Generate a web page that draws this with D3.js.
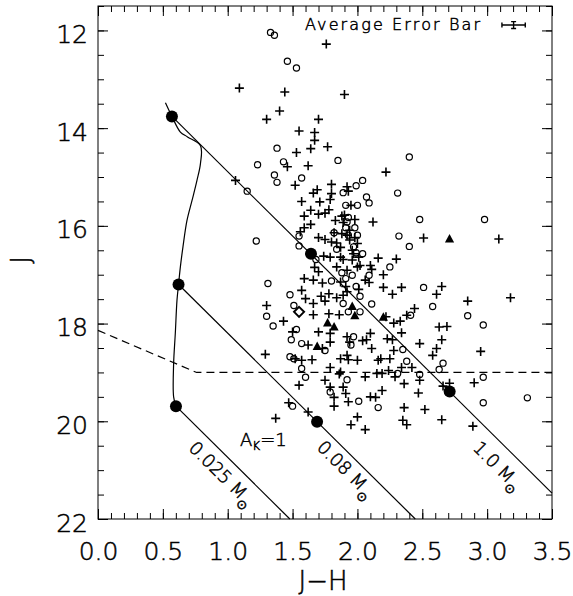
<!DOCTYPE html>
<html><head><meta charset="utf-8">
<script src="https://cdn.jsdelivr.net/npm/d3@7"></script>
<style>
body{margin:0;background:#fff}
text{font-family:"DejaVu Sans",sans-serif;font-weight:200;fill:#000;stroke:#000;stroke-width:0.5px}
</style>
</head><body>
<svg id="c" width="573" height="596"></svg>
<script>
// ---------- axes ----------
const xDomain = [0, 3.5];
const yDomain = [11.5, 22];
const xMajor = [0, 0.5, 1, 1.5, 2, 2.5, 3, 3.5];
const xMajorLabels = ["0.0","0.5","1.0","1.5","2.0","2.5","3.0","3.5"];
const xMinor = d3.range(0, 36).map(i => i / 10);
const yMajor = [12, 14, 16, 18, 20, 22];
const yMajorLabels = ["12","14","16","18","20","22"];
const yMinor = [11.5,12,12.5,13,13.5,14,14.5,15,15.5,16,16.5,17,17.5,18,18.5,19,19.5,20,20.5,21,21.5,22];
const xTitle = "J\u2212H";
const yTitle = "J";

// ---------- data (J-H, J) ----------
const plusPts = [
[1.09,13.18],[1.44,13.26],[1.40,13.65],[1.30,13.82],[1.55,14.06],[1.53,14.50],[1.46,14.79],[1.52,15.17],[1.06,15.07],
[1.76,12.28],[1.90,13.31],[1.70,13.82],[1.67,14.09],[1.67,14.25],[1.64,14.42],[1.77,14.38],[1.62,14.77],[1.80,15.15],
[1.92,15.20],[2.22,14.90],[1.80,15.34],[1.66,15.33],[1.69,15.26],[1.93,15.29],[1.57,15.50],[1.71,15.51],[1.79,15.46],
[1.95,15.58],[1.64,15.68],[1.59,15.80],[1.70,15.76],[1.75,15.74],[1.88,15.80],[1.83,15.89],[2.12,15.92],[1.59,16.04],
[1.56,16.12],[1.94,16.09],[1.82,16.14],[1.88,16.16],[1.70,16.24],[1.75,16.28],[2.51,16.25],[3.09,16.27],[1.80,16.33],
[1.98,16.24],[1.87,16.44],[1.97,16.57],[1.74,16.62],[1.79,16.64],[1.87,16.64],[2.16,16.66],[2.30,16.68],[1.78,15.67],
[1.89,15.93],[1.98,15.87],[1.64,15.97],[1.92,16.19],[1.84,16.35],[1.94,16.29],[2.00,16.36],[1.96,16.50],[1.89,16.69],
[1.96,16.70],[2.01,16.64],[1.67,16.85],[1.70,16.94],[1.84,16.84],[1.92,16.91],[2.00,16.84],[1.59,17.08],[1.66,17.11],
[1.91,17.24],[1.90,15.78],[2.02,16.81],[2.10,16.81],[2.11,16.89],[2.20,17.00],[2.06,17.11],[2.09,17.16],[2.20,17.26],
[2.34,17.26],[2.65,17.24],[1.57,17.32],[1.73,17.17],[1.87,17.15],[1.92,17.35],[1.30,17.63],[1.60,17.49],[1.72,17.44],
[1.75,17.54],[1.78,17.39],[1.84,17.47],[1.89,17.42],[1.66,17.59],[1.66,17.82],[1.78,17.80],[1.86,17.82],[1.50,18.17],
[1.70,18.17],[1.79,18.20],[1.79,18.38],[1.62,18.44],[1.29,18.63],[1.92,18.27],[1.73,18.51],[1.52,18.72],[1.57,18.75],
[1.65,18.74],[1.87,18.72],[1.92,18.65],[2.00,18.75],[1.79,18.90],[1.87,18.99],[1.75,19.16],[1.55,19.26],[1.79,19.30],
[1.89,19.30],[1.91,19.43],[1.82,19.51],[1.82,19.69],[2.06,19.09],[2.15,19.02],[2.19,19.02],[2.29,19.09],[2.36,19.23],
[2.48,19.16],[2.19,19.37],[2.47,19.42],[2.10,19.50],[2.14,19.51],[1.93,19.60],[2.36,19.72],[2.52,19.76],[2.00,19.91],
[1.95,20.07],[2.06,20.17],[2.35,19.98],[2.38,20.07],[2.65,19.97],[2.71,19.22],[2.66,19.28],[1.47,19.62],[1.62,19.81],
[1.37,19.94],[2.61,17.40],[2.27,17.40],[2.44,17.69],[2.38,17.83],[2.33,17.95],[2.28,17.99],[2.22,17.86],[2.63,18.07],
[2.69,18.06],[2.65,18.33],[2.48,18.41],[2.28,18.55],[2.61,18.51],[2.58,18.65],[2.42,18.90],[2.34,18.90],[2.16,18.75],
[2.25,18.72],[2.24,18.96],[2.10,18.20],[2.07,18.33],[2.04,18.35],[2.11,18.51],[1.94,18.38],[1.93,18.74],[2.23,18.31],
[2.27,18.33],[2.18,18.72],[2.85,17.54],[3.18,17.47],[2.95,18.57],[2.90,19.21],[2.34,18.19],[2.89,20.10],[1.86,19.03],
[1.43,17.95],[2.01,17.30]
];
const circlePts = [
[1.33,12.04],[1.36,12.10],[1.46,12.63],[1.53,12.77],[1.38,14.41],[1.23,14.75],[1.43,14.69],[1.36,14.96],[1.38,15.11],
[1.15,15.29],[1.22,16.31],[1.31,17.18],[1.48,17.41],[1.55,16.21],[1.55,16.41],[1.85,14.66],[1.57,15.02],[1.99,15.18],
[2.40,14.59],[1.89,15.32],[2.04,15.07],[2.07,15.41],[2.09,15.53],[2.31,15.33],[1.91,15.58],[1.93,15.83],[2.48,15.87],
[2.98,15.87],[1.91,16.04],[1.98,16.04],[1.93,16.19],[1.82,16.14],[2.32,16.21],[2.40,16.42],[1.97,16.43],[2.04,16.57],
[2.25,16.84],[1.68,16.69],[2.00,15.58],[1.92,15.92],[2.00,16.19],[1.84,16.48],[1.99,16.55],[1.88,16.96],[1.96,17.01],
[1.80,17.13],[1.99,17.24],[2.09,17.01],[2.51,17.26],[1.91,17.08],[1.51,17.63],[1.93,17.76],[1.53,18.12],[1.57,18.41],
[1.95,18.44],[1.75,18.55],[1.48,18.68],[1.51,18.72],[1.57,18.92],[1.92,19.15],[1.60,19.10],[1.79,19.40],[2.31,19.02],
[2.48,19.04],[2.01,19.59],[2.16,19.72],[1.50,19.69],[2.58,17.65],[2.11,17.60],[2.41,17.83],[2.35,18.53],[2.38,18.77],
[2.66,18.81],[2.63,18.94],[1.97,18.27],[2.85,17.84],[2.97,18.03],[2.97,19.10],[2.97,19.62],[3.31,19.52],[1.30,17.85],
[1.35,18.05],[1.49,18.33],[2.02,17.44],[1.89,17.59],[2.02,17.76]
];
const trianglePts = [[2.71,16.27],[1.77,17.99],[1.82,18.07],[1.69,18.47],[1.96,17.65],[1.98,17.84],[2.20,17.87]];
const diamondPts = [[1.55,17.76]];

// isochrone (unreddened) track
const isochrone = [
[0.52,13.48],[0.57,13.76],[0.635,14.08],[0.69,14.18],[0.79,14.36],[0.79,14.72],[0.763,15.07],[0.725,15.48],
[0.686,15.89],[0.655,16.43],[0.635,16.84],[0.621,17.20],[0.609,17.52],[0.596,18.20],[0.583,18.82],[0.583,19.50],[0.601,19.69]
];
// reddening vectors: start, end, and filled dots
const trackNames = ["1.0", "0.08", "0.025"];
const trackLines = [
  [[0.57,13.76],[3.5,21.47]],
  [[0.621,17.20],[2.446,22.0]],
  [[0.601,19.69],[1.479,22.0]]
];
const trackDots = [
  [[0.57,13.76],[1.642,16.57],[2.711,19.39]],
  [[0.621,17.20],[1.689,20.01]],
  [[0.601,19.69]]
];
const trackLabelPos = [[3.084,20.91],[1.912,20.98],[0.956,21.08]];
// completeness limit (dashed)
const limitLine = [[0,18.14],[0.76,19.0],[3.5,19.0]];
// average error bar
const errCenter = [3.204, 11.89];
const errX = 0.09, errJ = 0.07;
const akLabelPos = [1.095, 20.50];

// ---------- drawing ----------
const svg = d3.select("#c");
const L = 98, R = 552, T = 6, B = 519;
const x = d3.scaleLinear().domain(xDomain).range([L, R]);
const y = d3.scaleLinear().domain(yDomain).range([T, B]);
const ink = "#000";

function ax(gen, tx, ty, vals, size, fmt) {
  const g = svg.append("g").attr("transform", `translate(${tx},${ty})`)
    .call(gen.tickValues(vals).tickSizeInner(size).tickSizeOuter(0).tickFormat(fmt || (() => "")));
  g.select(".domain").remove();
  g.selectAll("line").attr("stroke", ink).attr("stroke-width", 1);
  return g;
}
const gx = ax(d3.axisBottom(x).tickPadding(23), 0, B, xMajor, -10, (d, i) => xMajorLabels[i]);
ax(d3.axisBottom(x), 0, B, xMinor, -6);
ax(d3.axisTop(x), 0, T, xMajor, -10);
ax(d3.axisTop(x), 0, T, xMinor, -6);
const gy = ax(d3.axisLeft(y).tickPadding(10), L, 0, yMajor, -10, (d, i) => yMajorLabels[i]);
ax(d3.axisLeft(y), L, 0, yMinor, -6);
ax(d3.axisRight(y), R, 0, yMajor, -10);
ax(d3.axisRight(y), R, 0, yMinor, -6);
svg.selectAll("g").attr("font-family", null).attr("font-size", null);
gx.selectAll("text").attr("font-size", 25).attr("fill", null);
gy.selectAll("text").attr("font-size", 25).attr("dy", "0.48em").attr("fill", null);

svg.append("rect").attr("x", L).attr("y", T).attr("width", R - L).attr("height", B - T)
  .attr("fill", "none").attr("stroke", ink).attr("stroke-width", 1);

svg.append("text").attr("x", 323).attr("y", 590).attr("text-anchor", "middle").attr("font-size", 26).text(xTitle);
svg.append("text").attr("transform", "translate(30,260) rotate(-90)").attr("text-anchor", "middle").attr("font-size", 26).text(yTitle);

const plot = svg.append("g");
const line = d3.line().x(d => x(d[0])).y(d => y(d[1]));

// dashed limit
plot.append("path").attr("d", line(limitLine)).attr("fill", "none").attr("stroke", ink)
  .attr("stroke-width", 1.2).attr("stroke-dasharray", "8,5");
// isochrone
plot.append("path").attr("d", line.curve(d3.curveCatmullRom)(isochrone)).attr("fill", "none")
  .attr("stroke", ink).attr("stroke-width", 1.2);
line.curve(d3.curveLinear);
// reddening tracks
trackLines.forEach(t => plot.append("path").attr("d", line(t)).attr("fill", "none").attr("stroke", ink).attr("stroke-width", 1.2));

// points
plot.selectAll(".pl").data(plusPts).join("path")
  .attr("transform", d => `translate(${x(d[0])},${y(d[1])})`)
  .attr("d", "M-4.5,0H4.5M0,-4.5V4.5").attr("stroke", ink).attr("stroke-width", 1.6).attr("fill", "none");
plot.selectAll(".ci").data(circlePts).join("circle")
  .attr("cx", d => x(d[0])).attr("cy", d => y(d[1])).attr("r", 3.1)
  .attr("fill", "none").attr("stroke", ink).attr("stroke-width", 1.2);
plot.selectAll(".tr").data(trianglePts).join("path")
  .attr("transform", d => `translate(${x(d[0])},${y(d[1])})`)
  .attr("d", "M0,-5L4.6,3.5L-4.6,3.5Z").attr("fill", ink);
plot.selectAll(".dm").data(diamondPts).join("path")
  .attr("transform", d => `translate(${x(d[0])},${y(d[1])})`)
  .attr("d", "M0,-5L5,0L0,5L-5,0Z").attr("fill", "none").attr("stroke", ink).attr("stroke-width", 2);

// track dots
trackDots.flat().forEach(d => plot.append("circle").attr("cx", x(d[0])).attr("cy", y(d[1])).attr("r", 6).attr("fill", ink));

// track labels
const ang = Math.atan2(y(trackLines[0][1][1]) - y(trackLines[0][0][1]), x(trackLines[0][1][0]) - x(trackLines[0][0][0])) * 180 / Math.PI;
trackNames.forEach((n, i) => {
  const p = trackLabelPos[i];
  const t = svg.append("text").attr("transform", `translate(${x(p[0])},${y(p[1])}) rotate(${ang})`)
    .attr("text-anchor", "middle").attr("dy", "0.35em").attr("font-size", 18);
  t.append("tspan").text(n + " M");
  t.append("tspan").attr("font-size", 13).attr("dy", "0.45em").text("\u2299");
});

// A_K = 1
const ak = svg.append("text").attr("x", x(akLabelPos[0])).attr("y", y(akLabelPos[1])).attr("font-size", 18);
ak.append("tspan").text("A");
ak.append("tspan").attr("font-size", 12).attr("dy", 4).text("K");
ak.append("tspan").attr("dy", -4).text("=1");

// average error bar
svg.append("text").attr("x", 480).attr("y", 30).attr("text-anchor", "end").attr("font-size", 16)
  .attr("textLength", 175).attr("lengthAdjust", "spacing").text("Average Error Bar");
const ex0 = x(errCenter[0] - errX), ex1 = x(errCenter[0] + errX), ecx = x(errCenter[0]);
const ey0 = y(errCenter[1] - errJ), ey1 = y(errCenter[1] + errJ), ecy = y(errCenter[1]);
const eb = svg.append("g").attr("stroke", ink).attr("stroke-width", 1.4).attr("fill", "none");
eb.append("path").attr("d", `M${ex0},${ecy}H${ex1}M${ex0},${ecy-2.5}V${ecy+2.5}M${ex1},${ecy-2.5}V${ecy+2.5}`);
eb.append("path").attr("d", `M${ecx},${ey0}V${ey1}M${ecx-2.5},${ey0}H${ecx+2.5}M${ecx-2.5},${ey1}H${ecx+2.5}`);
</script>
</body></html>
